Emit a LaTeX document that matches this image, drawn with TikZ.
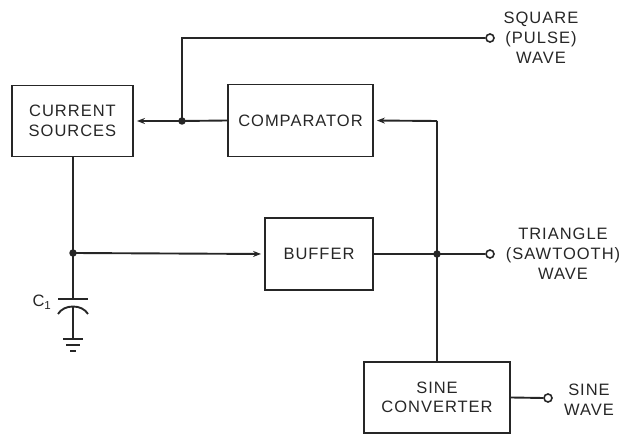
\documentclass[tikz,border=0pt]{standalone}
\usepackage{fontspec}
\setmainfont[LetterSpace=6]{Liberation Sans}
\usetikzlibrary{arrows.meta}
\begin{document}
\begin{tikzpicture}[x=1pt,y=-1pt,
  line width=1.9pt, draw=black!85,
  blk/.style={draw=black!85, line width=1.9pt, rectangle, inner sep=0pt, font=\fontsize{16.5}{19.5}\selectfont, align=center, text=black!85},
  lbl/.style={font=\fontsize{16.5}{20}\selectfont, align=center, text=black!85, inner sep=0pt},
  term/.style={circle, draw=black!85, line width=1.6pt, fill=white, minimum size=8pt, inner sep=0pt},
  dot/.style={circle, fill=black!85, minimum size=7.5pt, inner sep=0pt},
  arr/.style={-{Stealth[length=8pt,width=6pt]}, shorten >=3pt}]
\useasboundingbox (0,0) rectangle (633,435);
% blocks
\node[blk, minimum width=121pt, minimum height=71pt] (cs) at (72.5,121) {CURRENT\\SOURCES};
\node[blk, minimum width=145pt, minimum height=72pt] (cmp) at (300.5,120.5) {COMPARATOR};
\node[blk, minimum width=108pt, minimum height=72pt] (buf) at (319,254) {BUFFER};
\node[blk, minimum width=146pt, minimum height=71pt] (sine) at (437,397.5) {SINE\\CONVERTER};
% junctions
\node[dot] (j1) at (182,121) {};
\node[dot] (j2) at (73,253) {};
\node[dot] (j3) at (437,254) {};
\coordinate (top) at (182,38);
\coordinate (rc) at (437,121);
% terminals
\node[term] (tsq) at (490,38) {};
\node[term] (ttr) at (490,254) {};
\node[term] (tsn) at (548,398) {};
\node[lbl] (lsq) at (541,38) {SQUARE\\(PULSE)\\WAVE};
\node[lbl] (ltr) at (563,254) {TRIANGLE\\(SAWTOOTH)\\WAVE};
\node[lbl] (lsn) at (589,400) {SINE\\WAVE};
% connections
\draw (cmp.west) -- (j1.center);
\draw[arr] (j1.center) -- (cs.east);
\draw (j1.center) -- (top) -- (tsq.west);
\draw (cs.south -| j2) -- (j2.center);
\draw[arr] (j2.center) -- (buf.west);
\draw (buf.east) -- (j3.center) -- (ttr.west);
\draw (sine.north -| j3) -- (j3.center) -- (rc);
\draw[arr] (rc) -- (cmp.east);
\draw (sine.east) -- (tsn.west);
% capacitor
\coordinate (cp1) at (73,299);
\coordinate (cp2) at (73,307);
\coordinate (gnd) at (73,339);
\draw (j2.center) -- (cp1);
\draw (58,299) -- (88,299);
\draw (58,314) .. controls (64,304) and (82,304) .. (88,314);
\draw (cp2) -- (gnd);
\draw (63,339) -- (83,339);
\draw (66,345) -- (80,345);
\draw (70,351) -- (76,351);
\node[lbl] (c1) at (42,302) {C\textsubscript{1}};
\end{tikzpicture}
\end{document}
